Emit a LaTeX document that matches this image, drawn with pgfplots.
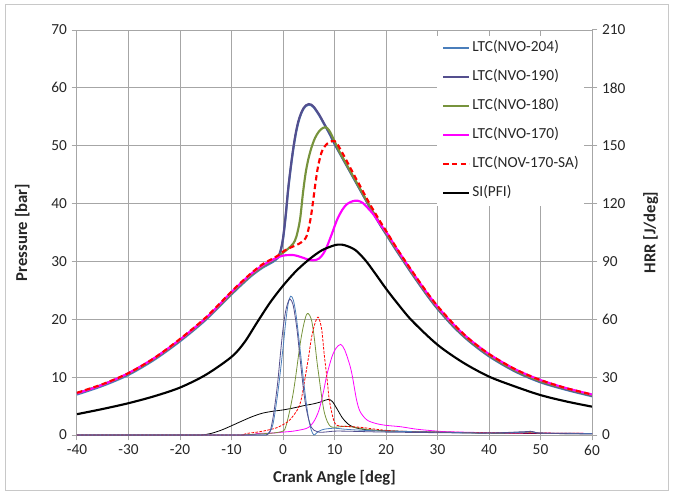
\documentclass[border=0pt]{standalone}
\usepackage{pgfplots}
\pgfplotsset{compat=1.18}
\usepackage{fontspec}
\setmainfont{Carlito}
\newcommand{\fs}{\fontsize{11.5}{13.8}\selectfont}
\newcommand{\fl}{\fontsize{12.5}{15}\selectfont\bfseries}
\definecolor{cA}{HTML}{4A7EBB}
\definecolor{cB}{HTML}{544F8E}
\definecolor{cC}{HTML}{77933C}
\definecolor{cD}{HTML}{FF00FF}
\definecolor{gridc}{HTML}{A6A6A6}
\definecolor{framec}{HTML}{C8C8C8}
\pgfplotsset{
  base/.style={
    scale only axis, width=386.25pt, height=303.75pt,
    xmin=-40, xmax=60,
    /pgf/number format/assume math mode=true,
    tick label style={font=\fs, text=black!85},
    axis line style={gridc, line width=0.75pt},
    tick style={gridc, line width=0.75pt},
    tick align=outside, major tick length=4pt,
  },
  pr/.style={line width=1.6pt, smooth},
  hr/.style={line width=0.6pt, smooth},
}
\begin{document}
\begin{tikzpicture}
\begin{axis}[base,
  ymin=0, ymax=70,
  xtick={-40,-30,...,60}, ytick={0,10,...,70},
  xtick pos=bottom, ytick pos=left,
  grid=major, grid style={gridc, line width=0.75pt},
  xlabel={Crank Angle [deg]}, ylabel={Pressure [bar]},
  every axis x label/.style={at={(axis description cs:0.5,-0.1063)}, anchor=center, font=\fl, text=black!85},
  every axis y label/.style={at={(axis description cs:-0.1062,0.5)}, rotate=90, anchor=center, font=\fl, text=black!85},
]
% LTC(NVO-204)
\addplot[pr, cA] coordinates {(-40,7.0) (-35,8.5) (-30,10.4) (-25,13.0) (-20,16.2) (-15,19.9) (-10,24.3) (-8,26.0) (-6,27.6) (-4,28.9) (-2,29.9) (-1,30.6) (-0.5,31.6) (0,33.8) (0.5,37.6) (1,42.3) (1.5,46.1) (2,49.4) (2.5,52.1) (3,54.1) (3.5,55.5) (4,56.4) (4.5,56.9) (5,57.1) (5.5,57.0) (6,56.6) (7,55.3) (8,53.7) (9,52.1) (10,50.3) (11,48.7) (12,47.1) (13,45.5) (14,43.9) (15,42.3) (16,40.7) (17,39.1) (18,37.6) (19,36.1) (20,34.7) (22,31.9) (25,27.9) (28,24.1) (30,21.8) (33,18.8) (36,16.3) (40,13.6) (45,11.0) (50,9.1) (55,7.8) (60,6.7)};
% LTC(NVO-190)
\addplot[pr, cB] coordinates {(-40,7.2) (-35,8.7) (-30,10.6) (-25,13.2) (-20,16.4) (-15,20.1) (-10,24.5) (-8,26.2) (-6,27.8) (-4,29.1) (-2,30.1) (-1,30.8) (-0.5,31.8) (0,34.0) (0.5,37.8) (1,42.5) (1.5,46.3) (2,49.6) (2.5,52.3) (3,54.3) (3.5,55.6) (4,56.5) (4.5,57.0) (5,57.2) (5.5,57.1) (6,56.7) (7,55.4) (8,53.8) (9,52.2) (10,50.4) (11,48.8) (12,47.2) (13,45.6) (14,44.0) (15,42.4) (16,40.8) (17,39.2) (18,37.7) (19,36.2) (20,34.8) (22,32.0) (25,28.0) (28,24.2) (30,21.9) (33,18.9) (36,16.4) (40,13.7) (45,11.1) (50,9.2) (55,7.9) (60,6.8)};
% LTC(NVO-180)
\addplot[pr, cC] coordinates {(-40,7.2) (-35,8.7) (-30,10.6) (-25,13.2) (-20,16.4) (-15,20.1) (-10,24.5) (-8,26.2) (-6,27.8) (-4,29.1) (-2,30.2) (-1,30.8) (0,31.5) (1,32.2) (2,33.1) (2.6,34.3) (3.3,37.2) (3.9,42.0) (4.4,45.3) (4.9,47.6) (5.5,49.6) (6.2,51.3) (7,52.5) (7.8,53.1) (8.3,53.2) (9,52.6) (10,50.8) (11,48.9) (12,47.3) (13,45.7) (14,44.1) (15,42.5) (16,40.9) (17,39.3) (18,37.8) (19,36.3) (20,34.9) (22,32.1) (25,28.1) (28,24.3) (30,22.0) (33,19.0) (36,16.5) (40,13.8) (45,11.2) (50,9.3) (55,8.0) (60,6.9)};
% LTC(NVO-170)
\addplot[pr, cD] coordinates {(-40,7.2) (-35,8.7) (-30,10.7) (-25,13.3) (-20,16.5) (-15,20.2) (-10,24.7) (-8,26.4) (-6,28.0) (-4,29.3) (-2,30.3) (-1,30.7) (0,31.0) (1,31.1) (2,31.1) (3,30.9) (4,30.6) (5,30.3) (6,30.2) (7,30.5) (7.8,31.3) (8.5,32.5) (9.5,34.8) (10.5,37.2) (11.5,38.9) (12.4,39.9) (13.5,40.4) (14.5,40.5) (15.5,40.1) (16.5,39.2) (17.5,38.2) (18.5,36.9) (19.5,35.7) (20.5,34.5) (22,32.3) (25,28.3) (28,24.5) (30,22.2) (33,19.2) (36,16.7) (40,14.0) (45,11.4) (50,9.5) (55,8.1) (60,7.0)};
% LTC(NOV-170-SA)
\addplot[pr, red, dash pattern=on 4pt off 2.5pt] coordinates {(-40,7.3) (-35,8.8) (-30,10.7) (-25,13.3) (-20,16.6) (-15,20.3) (-10,24.8) (-8,26.5) (-6,28.1) (-4,29.5) (-2,30.5) (-1,31.0) (0,31.7) (1,32.2) (2,32.6) (3,33.0) (4,33.6) (4.6,34.4) (5.1,36.2) (5.5,38.2) (5.9,40.8) (6.3,43.5) (6.7,45.9) (7.1,47.6) (7.6,49.1) (8.5,50.3) (9.5,50.8) (10,50.8) (10.5,50.4) (11,49.6) (12,48.0) (13,46.3) (14,44.6) (15,43.0) (16,41.3) (17,39.7) (18,38.2) (19,36.7) (20,35.3) (22,32.4) (25,28.4) (28,24.6) (30,22.3) (33,19.3) (36,16.7) (40,14.0) (45,11.4) (50,9.5) (55,8.1) (60,7.0)};
% SI(PFI)
\addplot[pr, black] coordinates {(-40,3.6) (-35,4.5) (-30,5.5) (-25,6.7) (-20,8.2) (-15,10.4) (-10,13.5) (-7.5,16.0) (-5,19.5) (-2.5,22.9) (0,25.8) (2.5,28.3) (5,30.3) (7.5,31.9) (10,32.8) (11,32.9) (12,32.8) (14,32.0) (16,30.2) (18,27.8) (20,25.3) (22,23.0) (25,19.8) (30,15.6) (35,12.5) (40,10.1) (45,8.4) (50,6.9) (55,5.8) (60,4.9)};
\end{axis}
\begin{axis}[base,
  ymin=0, ymax=210, ytick={0,30,...,210},
  axis x line=none, axis y line*=right,
  ylabel={HRR [J/deg]},
  every axis y label/.style={at={(axis description cs:1.114,0.5)}, rotate=90, anchor=center, font=\fl, text=black!85},
  legend cell align=left,
  legend image code/.code={\draw[#1] (0pt,0pt) -- (19.5pt,0pt); \path (21pt,0pt);},
  legend style={at={(axis description cs:0.699,0.986)}, anchor=north west, draw=none, fill=white, font=\fs, text=black!85,
    inner xsep=3.75pt, inner ysep=3.75pt, row sep=10.75pt,
    nodes={inner sep=0pt, text height=8pt, text depth=3pt}},
]
\addlegendimage{cA, line width=1.6pt}
\addlegendentry{LTC(NVO-204)}
\addlegendimage{cB, line width=1.6pt}
\addlegendentry{LTC(NVO-190)}
\addlegendimage{cC, line width=1.6pt}
\addlegendentry{LTC(NVO-180)}
\addlegendimage{cD, line width=1.6pt}
\addlegendentry{LTC(NVO-170)}
\addlegendimage{red, line width=1.6pt, dash pattern=on 4pt off 2.5pt}
\addlegendentry{LTC(NOV-170-SA)}
\addlegendimage{black, line width=1.6pt}
\addlegendentry{SI(PFI)}
% HRR SI(PFI)
\addplot[hr, black, forget plot] coordinates {(-40,0) (-20,0) (-16,0) (-14,0.8) (-12,2.5) (-10,4.8) (-8,7.2) (-6,9.5) (-4,11.3) (-2,12.3) (0,13.0) (2,14.0) (4,15.2) (6,16.2) (7.5,17.3) (8.8,18.5) (9.6,17.3) (10.5,13.5) (11.5,9.0) (12.5,6.0) (13.5,4.3) (15,3.2) (18,2.4) (25,1.8) (30,1.5) (40,1.0) (50,0.8) (60,0.6)};
% HRR NVO-170
\addplot[hr, cD, forget plot] coordinates {(-40,0) (-10,0) (-6,0) (-5,0.8) (-2,1.0) (0,1.5) (2,2.0) (4,3.0) (5,4.0) (6,7.0) (7,13) (7.9,23) (8.5,31) (9.5,40.5) (10.3,45) (11.2,47) (12,44) (13,36) (13.5,30) (14.3,18) (15,12) (16.3,7.8) (18,6.0) (20,5.0) (22.8,4.3) (26,3.0) (30,2.0) (32,1.7) (40,1.2) (50,1.0) (60,0.8)};
% HRR NVO-180
\addplot[hr, cC, forget plot] coordinates {(-40,0) (-10,0) (-8,0) (-5,0.5) (-2,1.0) (0,2.0) (0.5,4) (1,9) (1.5,15) (2,22) (2.5,31) (3,41) (3.5,50) (4,57) (4.5,62) (4.9,63) (5.5,60) (6,52) (6.6,38) (7,30) (7.5,20) (8,12) (8.6,7) (9.2,4.5) (10,4.0) (12,4.5) (14,4.0) (16,3.0) (20,2.0) (30,1.5) (40,1.0) (48,1.5) (50,1.0) (60,0.8)};
% HRR NOV-170-SA
\addplot[hr, red, dash pattern=on 2pt off 1pt, forget plot] coordinates {(-40,0) (-10,0) (-8,0) (-7,0.8) (-5,1.5) (-3,2.5) (-1,4) (1,7) (2,10) (3,14) (3.5,18) (4,25) (4.5,33) (5,41) (5.5,50) (6,56) (6.5,60) (6.9,61) (7.5,55) (8,42) (8.6,28) (9,18) (9.8,8) (10.5,5) (12,4.5) (15,4.0) (18,3.0) (22,2.0) (30,1.5) (40,1.2) (50,1.0) (60,0.8)};
% HRR NVO-204
\addplot[hr, cA, forget plot] coordinates {(-40,0) (-10,0) (-4,0) (-3,0.5) (-2,5) (-1,22) (0,45) (0.5,58) (1,68) (1.5,72) (2,70) (2.5,63) (3,52) (3.5,40) (4,28) (4.5,17) (5,8) (5.5,2.5) (6,0) (6.5,1) (7,2) (8,3) (10,3.5) (12,3) (15,2.5) (20,2) (30,1.5) (40,1) (47,1.5) (48,2) (50,1) (60,0.8)};
% HRR NVO-190
\addplot[hr, cB, forget plot] coordinates {(-40,0) (-10,0) (-4,0) (-3,0.3) (-2.5,2) (-2,8) (-1.5,17) (-1,28) (-0.5,42) (0,55) (0.5,64) (1,69) (1.4,70.5) (2,67) (2.7,55) (3.3,40) (4,23) (4.5,14) (5,8) (5.5,4) (6,2.5) (7,1.5) (8,1.5) (10,2) (12,2) (15,1.8) (20,1.5) (30,1.2) (40,1) (48,1.8) (50,1) (60,0.5)};
\end{axis}
\draw[framec, line width=0.75pt] (-53.25pt,-41.25pt) rectangle (443.25pt,322.5pt);
\path (-57.75pt,-43.5pt) rectangle (447.75pt,326.25pt);
\end{tikzpicture}
\end{document}
